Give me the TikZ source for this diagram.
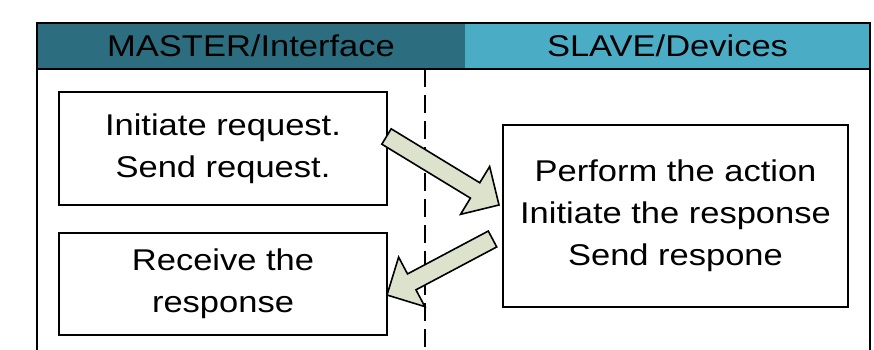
\documentclass[tikz,border=0pt]{standalone}
\usepackage{fontspec}
\setmainfont{Liberation Sans}[FakeStretch=1.15]
\usetikzlibrary{calc,positioning}
\definecolor{masterc}{RGB}{44,110,127}
\definecolor{slavec}{RGB}{75,172,198}
\definecolor{arrowc}{RGB}{221,226,204}
\tikzset{
  stepbox/.style={draw, line width=1.6pt, align=center, inner sep=0pt},
  bigarrow/.style={draw, fill=arrowc, line width=1.6pt, line join=miter},
}
\newcommand{\blockarrow}[2]{%
  \coordinate (#1h) at ($(#2)!28pt!(#1)$);
  \draw[bigarrow] ($(#1)!9pt!90:(#2)$) -- ($(#1h)!9pt!90:(#2)$)
    -- ($(#1h)!28pt!90:(#2)$) -- (#2) -- ($(#1h)!28pt!-90:(#2)$)
    -- ($(#1h)!9pt!-90:(#2)$) -- ($(#1)!9pt!-90:(#2)$) -- cycle;}

\begin{document}
\begin{tikzpicture}[x=1pt, y=-1pt, every node/.style={font=\fontsize{30}{42}\selectfont}]
\useasboundingbox (0,0) rectangle (874,350);
\fill[masterc] (37,23) rectangle (465,69);
\fill[slavec] (465,23) rectangle (870,69);
\node (master) at (251,46) {MASTER/Interface};
\node (slave) at (667.5,46) {SLAVE/Devices};
\draw[line width=1.6pt] (37,350) -- (37,23) -- (870,23) -- (870,350);
\draw[line width=1.6pt] (37,69) -- (870,69);
\draw[line width=1.6pt, dash pattern=on 18pt off 8pt] (425,69) -- (425,350);
\node[stepbox, minimum width=328pt, minimum height=113pt] (req) at (223,148.5) {Initiate request.\\Send request.};
\node[stepbox, minimum width=328pt, minimum height=102pt] (recv) at (223,284) {Receive the\\response};
\node[stepbox, minimum width=345pt, minimum height=182pt] (act) at (675.5,216) {Perform the action\\Initiate the response\\Send respone};
\coordinate (a1) at (386.5,136.5);
\coordinate (a1t) at (499,205);
\coordinate (a2) at (492.5,239);
\coordinate (a2t) at (387,295);
\blockarrow{a1}{a1t}
\blockarrow{a2}{a2t}
\end{tikzpicture}
\end{document}
